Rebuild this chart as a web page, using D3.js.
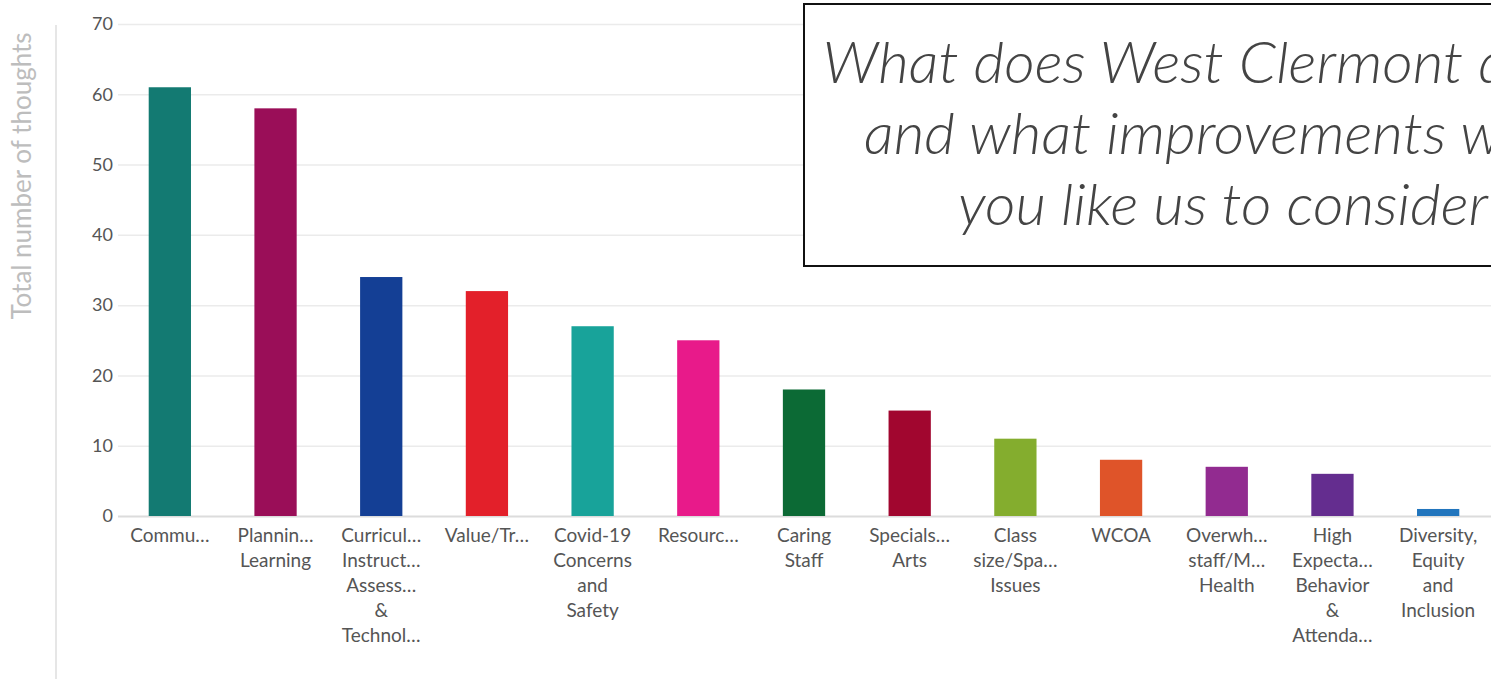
<!DOCTYPE html>
<html>
<head>
<meta charset="utf-8">
<script src="https://cdn.jsdelivr.net/npm/d3@7"></script>
<style>
  html, body { margin: 0; padding: 0; background: #fff; overflow: hidden; }
  svg { display: block; font-family: Lato, "Open Sans", sans-serif; }
</style>
</head>
<body>
<svg id="chart" width="1491" height="679"></svg>
<script>
  "use strict";

  // label lines as shown under each bar (already truncated in the original)
  var categories = [
    ["Commu…"],
    ["Plannin…", "Learning"],
    ["Curricul…", "Instruct…", "Assess…", "&", "Technol…"],
    ["Value/Tr…"],
    ["Covid-19", "Concerns", "and", "Safety"],
    ["Resourc…"],
    ["Caring", "Staff"],
    ["Specials…", "Arts"],
    ["Class", "size/Spa…", "Issues"],
    ["WCOA"],
    ["Overwh…", "staff/M…", "Health"],
    ["High", "Expecta…", "Behavior", "&", "Attenda…"],
    ["Diversity,", "Equity", "and", "Inclusion"]
  ];
  var values = [61, 58, 34, 32, 27, 25, 18, 15, 11, 8, 7, 6, 1];
  var colors = ["#137a72", "#9a0e58", "#143f95", "#e3202a", "#18a39a", "#e81a8a",
                "#0c6a35", "#a1062f", "#84ad2e", "#df5429", "#922b90", "#642d8f", "#2175bd"];
  var yTicks = [0, 10, 20, 30, 40, 50, 60, 70];
  var titleLines = ["What does West Clermont do well", "and what improvements would", "you like us to consider?"];
  var yTitle = "Total number of thoughts";

  var svg = d3.select("#chart");

  var x = d3.scaleBand()
    .domain(d3.range(values.length))
    .range([117, 1491])
    .paddingInner(0.6)
    .paddingOuter(0.3);

  var y = d3.scaleLinear().domain([0, 70]).range([516, 24]);

  // left rule + axis title
  svg.append("line")
    .attr("x1", 56).attr("x2", 56)
    .attr("y1", 25).attr("y2", 679)
    .attr("stroke", "#e6e6e6")
    .attr("stroke-width", 2);

  svg.append("text")
    .attr("transform", "translate(31,176) rotate(-90)")
    .attr("text-anchor", "middle")
    .style("font-size", "26px")
    .style("fill", "#bdbdbd")
    .text(yTitle);

  // grid + tick labels
  var yAxis = d3.axisLeft(y)
    .tickValues(yTicks)
    .tickSize(-(1491 - 118))
    .tickPadding(5);

  var ax = svg.append("g")
    .attr("transform", "translate(118,0)")
    .call(yAxis);
  ax.select(".domain").remove();
  ax.selectAll(".tick line")
    .attr("stroke", function (d) { return d === 0 ? "#dcdcdc" : "#ebebeb"; })
    .attr("stroke-width", function (d) { return d === 0 ? 2 : 1.5; });
  ax.selectAll(".tick text")
    .style("font-family", "Lato, sans-serif")
    .style("font-size", "18px")
    .style("fill", "#555");

  // bars
  svg.append("g")
    .selectAll("rect")
    .data(values)
    .enter()
    .append("rect")
    .attr("x", function (d, i) { return x(i); })
    .attr("y", function (d) { return y(d); })
    .attr("width", x.bandwidth())
    .attr("height", function (d) { return y(0) - y(d); })
    .attr("fill", function (d, i) { return colors[i]; });

  // category labels
  var labels = svg.append("g")
    .selectAll("text")
    .data(categories)
    .enter()
    .append("text")
    .attr("text-anchor", "middle")
    .style("font-size", "19px")
    .style("fill", "#555");

  labels.each(function (lines, i) {
    var t = d3.select(this);
    var cx = x(i) + x.bandwidth() / 2;
    lines.forEach(function (l, k) {
      t.append("tspan")
        .attr("x", cx)
        .attr("y", 542 + k * 25)
        .text(l);
    });
  });

  // title box
  svg.append("rect")
    .attr("x", 804).attr("y", 4)
    .attr("width", 900).attr("height", 262)
    .attr("fill", "#fff")
    .attr("stroke", "#111")
    .attr("stroke-width", 2);

  var title = svg.append("text")
    .attr("text-anchor", "start")
    .style("font-size", "58px")
    .style("font-style", "italic")
    .style("font-weight", 300)
    .style("fill", "#444");

  var tspans = title.selectAll("tspan")
    .data(titleLines)
    .enter()
    .append("tspan")
    .attr("y", function (d, i) { return 83 + i * 71; })
    .text(function (d) { return d; });

  // squeeze the glyphs to the condensed look of the original
  var ref = tspans.filter(function (d, i) { return i === 2; });
  var natural = ref.node().getComputedTextLength();
  var probe = svg.append("text")
    .style("font-size", "58px").style("font-style", "italic").style("font-weight", 300)
    .text("you like us to consider");
  var factor = 530 / probe.node().getComputedTextLength();
  probe.remove();
  var cx = 958 + natural * factor / 2;

  tspans.each(function () {
    var w = this.getComputedTextLength() * factor;
    d3.select(this)
      .attr("x", cx - w / 2)
      .attr("textLength", w)
      .attr("lengthAdjust", "spacingAndGlyphs");
  });
</script>
</body>
</html>
